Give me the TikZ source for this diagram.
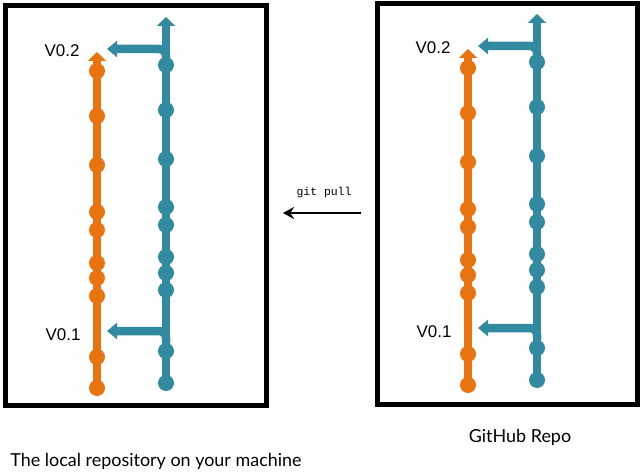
\documentclass[tikz,border=0pt]{standalone}
\usepackage{fontspec}
\setmainfont{Liberation Sans}
\setmonofont{Liberation Mono}
\newfontfamily\capfont{Lato}
\usetikzlibrary{arrows.meta}
\definecolor{gitorange}{HTML}{E8730F}
\definecolor{gitteal}{HTML}{318AA0}

\begin{document}
\begin{tikzpicture}[x=1bp, y=-1bp]
\tikzset{commit/.style={circle, fill=#1, inner sep=0pt, minimum size=16bp}}
\tikzset{stem/.style={line width=7.5bp, draw=#1, -{Triangle[width=18bp,length=9bp]}}}
\tikzset{branch/.style={line width=8.5bp, draw=gitteal, rounded corners=7bp, -{Triangle[width=16bp,length=10bp]}}}
\tikzset{box/.style={draw, line width=5bp, inner sep=0pt}}
\tikzset{tag/.style={font=\fontsize{17}{17}\selectfont, inner sep=0pt}}

\useasboundingbox (0,0) rectangle (641,475);

% the two boxes
\node[box, minimum width=261bp, minimum height=399.5bp] (local) at (136,205.25) {};
\node[box, minimum width=260bp, minimum height=400bp] (remote) at (507.5,204) {};

% one history per box
\foreach \side/\dx/\dy in {L/0/0, R/371/-3} {
\begin{scope}[shift={(\dx,\dy)}, name prefix=\side-]
\coordinate (otop) at (97,52);
\coordinate (ttop) at (166,17);
\coordinate (v2) at (107,49);
\coordinate (v1) at (107,331);
\foreach \n/\y in {1/71,2/116,3/165,4/212,5/230,6/263,7/278,8/296,9/357,10/388}
  \node[commit=gitorange] (o\n) at (97,\y) {};
\foreach \n/\y in {1/65,2/110,3/159,4/207,5/225,6/257,7/273,8/290,9/351,10/383}
  \node[commit=gitteal] (t\n) at (166,\y) {};
\draw[stem=gitorange] (o10.center) -- (otop);
\draw[stem=gitteal] (t10.center) -- (ttop);
\draw[branch] (t1) |- (v2);
\draw[branch] (t9) |- (v1);
\node[tag] (V2) at (62,51) {V0.2};
\node[tag] (V1) at (63,335) {V0.1};
\end{scope}
}

% pull from remote to local
\node (pulltext) at (324,193) {\ttfamily\fontsize{11.5}{12}\selectfont git pull};
\coordinate (pullfrom) at (361,213);
\coordinate (pullto) at (283,213);
\draw[line width=2.5bp, -{Stealth[length=11bp,width=12bp]}] (pullfrom) -- (pullto);

\node[font=\capfont\fontsize{18}{18}\selectfont] (localcap) at (156,461) {The local repository on your machine};
\node[font=\capfont\fontsize{18}{18}\selectfont] (remotecap) at (520,437) {GitHub Repo};

\end{tikzpicture}
\end{document}
